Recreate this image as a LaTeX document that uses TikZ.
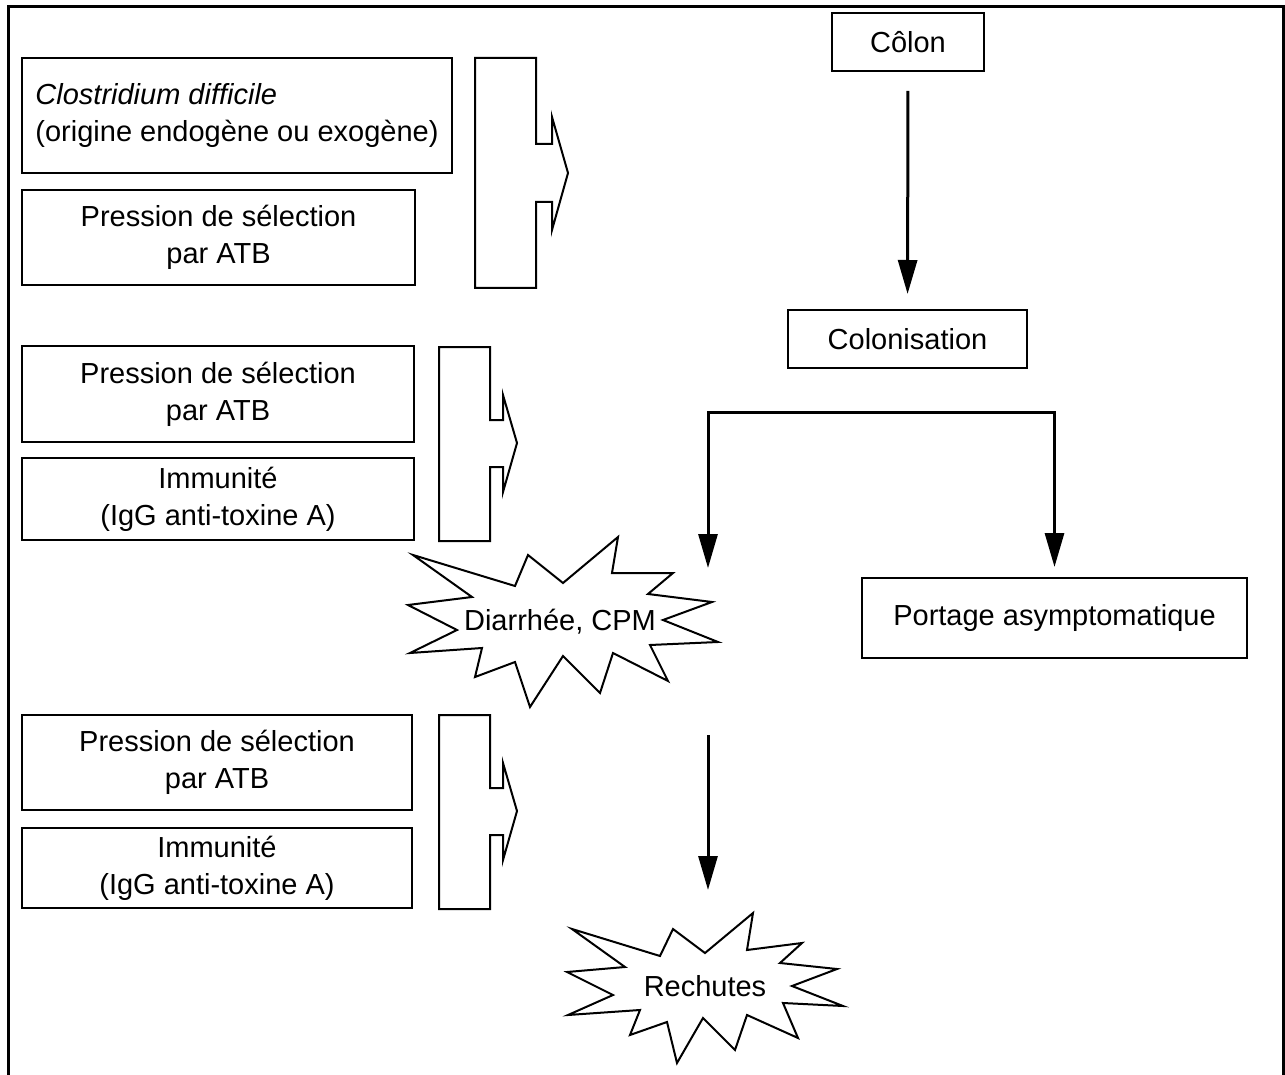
\documentclass[tikz,border=0pt]{standalone}
\usepackage{fontspec}
\setmainfont{Liberation Sans}
\usetikzlibrary{positioning, arrows.meta}

\tikzset{
  boite/.style={draw, line width=2pt, inner sep=0pt, align=center,
    font=\fontsize{29}{37}\selectfont},
  texte/.style={inner sep=0pt, align=center, font=\fontsize{29}{37}\selectfont},
  fleche/.style={line width=3pt, -{Triangle[length=34pt,width=19pt]}},
  crochet/.style={line width=2pt, line join=miter},
  eclat/.style={line width=2pt, line join=miter}
}

\begin{document}
\begin{tikzpicture}[x=1pt, y=-1pt]
\useasboundingbox (0,0) rectangle (1285,1075);

% Cadre
\draw[line width=3pt] (8,1075) -- (8,7) -- (1283,7) -- (1283,1075);

% Facteurs (colonne de gauche)
\node[boite, minimum width=430pt, minimum height=115pt] (clos) at (237,115.5)
  {\begin{tabular}{@{}l@{}}\textit{Clostridium difficile}\\(origine endogène ou exogène)\end{tabular}};
\node[boite, minimum width=393pt, minimum height=95pt] (psel1) at (218.5,237.5) {Pression de sélection\\par ATB};
\node[boite, minimum width=392pt, minimum height=96pt] (psel2) at (218,394) {Pression de sélection\\par ATB};
\node[boite, minimum width=392pt, minimum height=82pt] (immu1) at (218,499) {Immunité\\(IgG anti-toxine A)};
\node[boite, minimum width=390pt, minimum height=95pt] (psel3) at (217,762.5) {Pression de sélection\\par ATB};
\node[boite, minimum width=390pt, minimum height=80pt] (immu2) at (217,868) {Immunité\\(IgG anti-toxine A)};

% Accolades fléchées
\draw[crochet] (475,58) -- (536,58) -- (536,144) -- (552,144) -- (552,117) -- (568,173)
  -- (552,230) -- (552,202) -- (536,202) -- (536,288) -- (475,288) -- cycle;
\draw[crochet] (439,347) -- (490,347) -- (490,420) -- (503,420) -- (503,395) -- (517,443)
  -- (503,492) -- (503,467) -- (490,467) -- (490,541) -- (439,541) -- cycle;
\draw[crochet] (439,715) -- (490,715) -- (490,788) -- (503,788) -- (503,763) -- (517,811)
  -- (503,860) -- (503,835) -- (490,835) -- (490,909) -- (439,909) -- cycle;

% Colonne de droite
\node[boite, minimum width=152pt, minimum height=58pt] (colon) at (908,42) {Côlon};
\node[boite, minimum width=239pt, minimum height=58pt] (colonis) at (907.5,339) {Colonisation};
\node[boite, minimum width=385pt, minimum height=80pt] (portage) at (1054.5,618) {Portage asymptomatique};

\draw[fleche, shorten <=19pt, shorten >=15pt] (colon) -- (colonis);

% Fourche
\coordinate (fourche) at (881,412);
\coordinate (versdiarr) at (708,568);
\draw[fleche] (fourche) -| (versdiarr);
\draw[fleche, shorten >=10pt] (fourche) -| (portage.north);

% Diarrhée, CPM
\draw[eclat] (413,555) -- (515,586) -- (528,555) -- (563,583) -- (618,537) -- (612,573)
  -- (673,573) -- (648,594) -- (712,602) -- (663,620) -- (718,642) -- (650,645)
  -- (668,681) -- (613,653) -- (600,693) -- (563,656) -- (530,707) -- (515,662)
  -- (475,677) -- (482,648) -- (410,653) -- (457,630) -- (408,605) -- (472,597) -- cycle;
\node[texte] (diarr) at (560,622) {Diarrhée, CPM};

% Rechutes
\coordinate (apresdiarr) at (708,735);
\coordinate (versrech) at (708,890);
\draw[fleche] (apresdiarr) -- (versrech);
\draw[eclat] (572,929) -- (660,956) -- (673,929) -- (705,953) -- (753,913) -- (747,950)
  -- (802,943) -- (780,963) -- (837,969) -- (792,986) -- (843,1006) -- (783,1003)
  -- (798,1038) -- (747,1015) -- (735,1050) -- (703,1018) -- (677,1063) -- (667,1022)
  -- (630,1035) -- (640,1010) -- (568,1015) -- (613,995) -- (567,972) -- (625,967) -- cycle;
\node[texte] (rech) at (705,986) {Rechutes};
\end{tikzpicture}
\end{document}
